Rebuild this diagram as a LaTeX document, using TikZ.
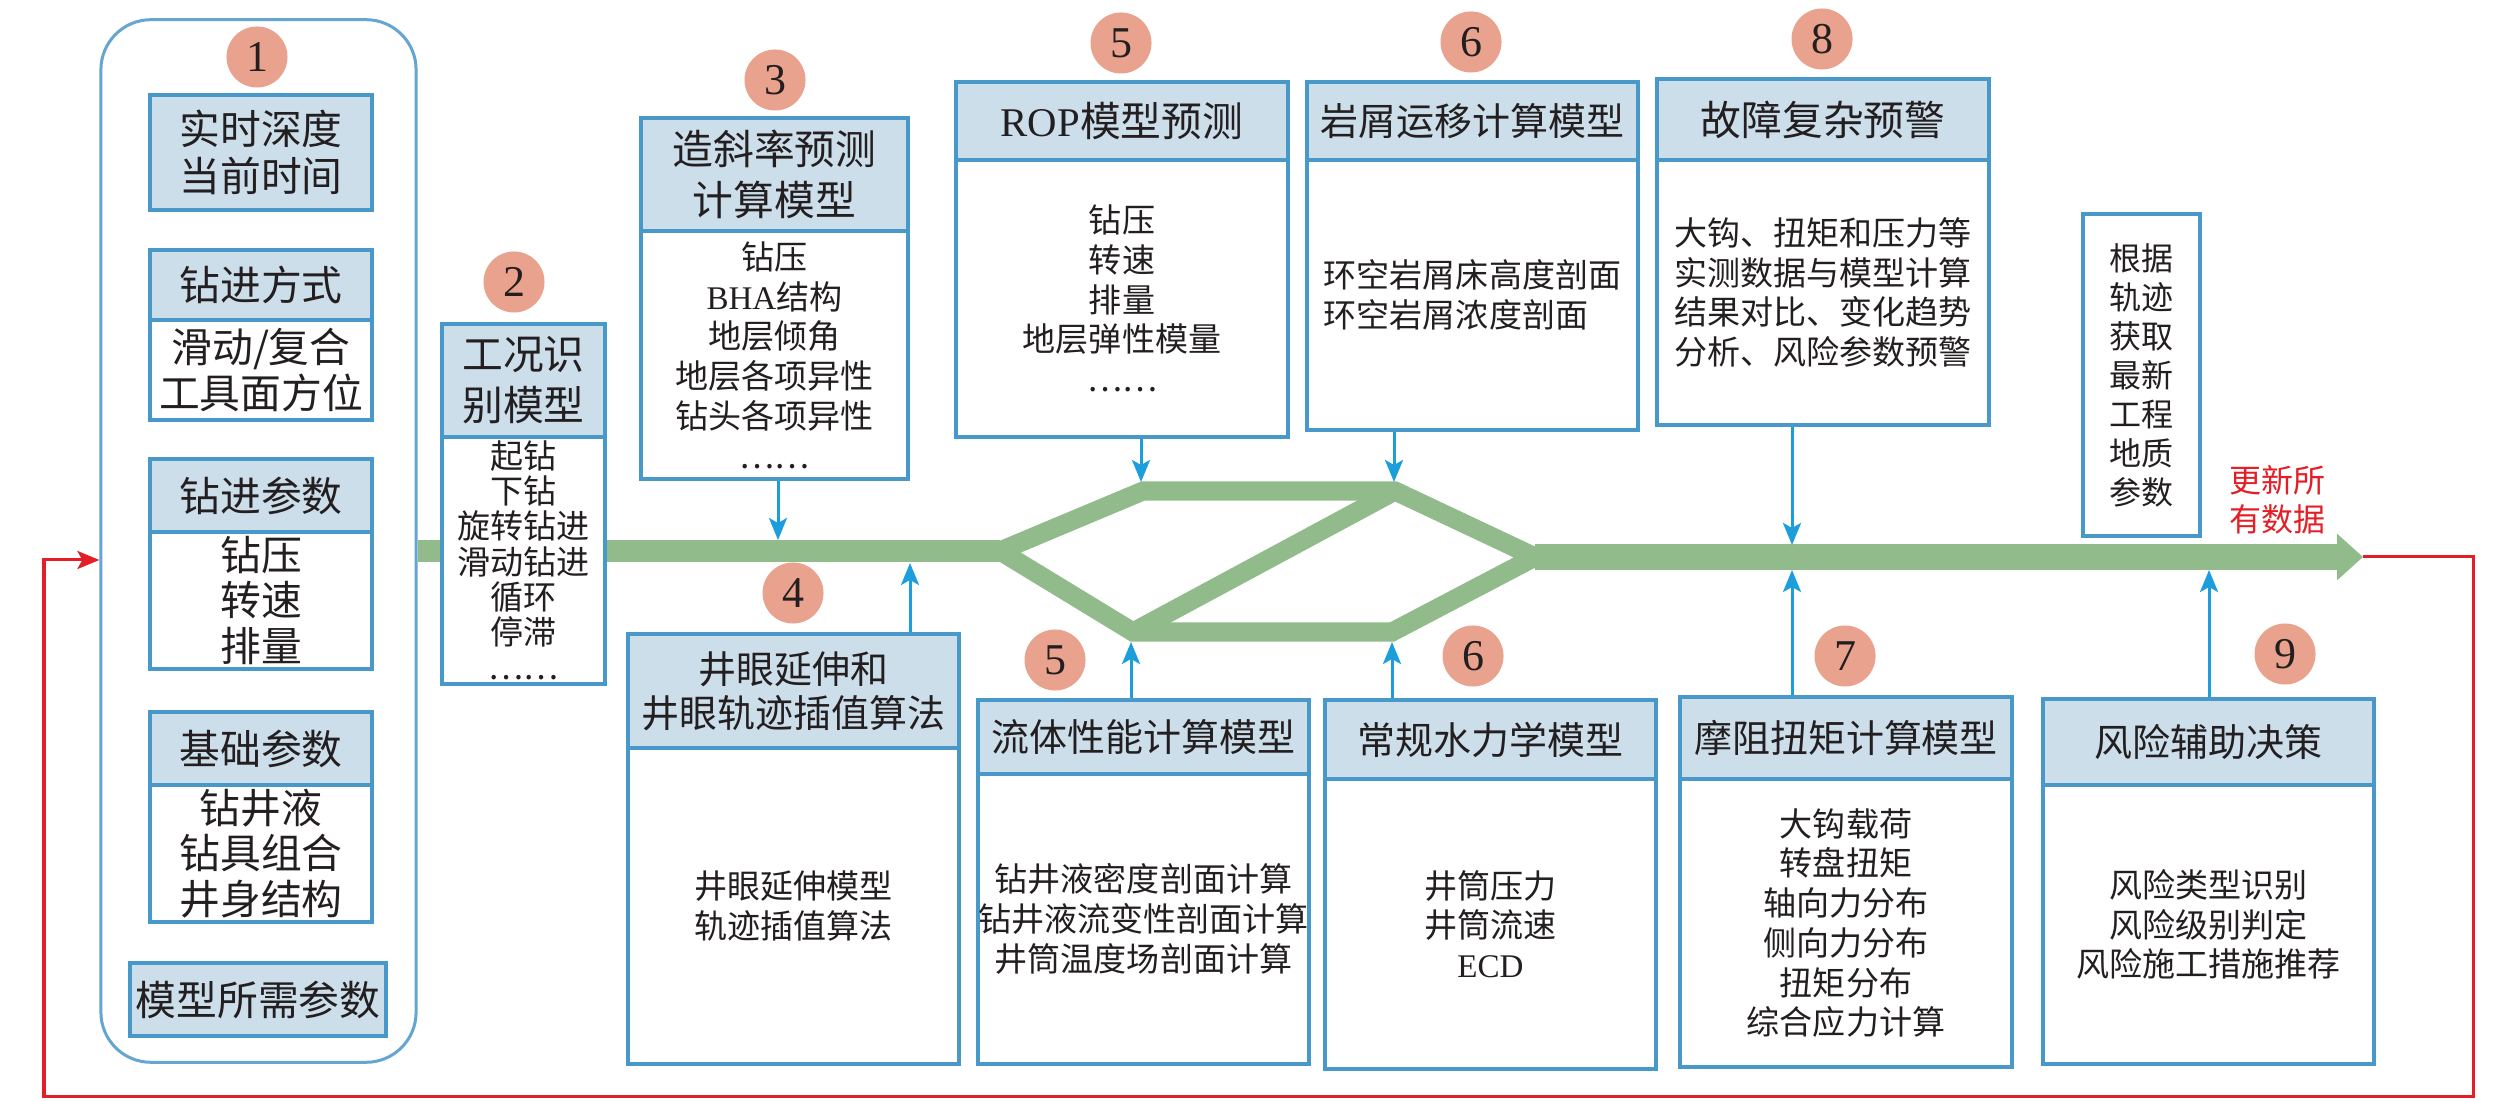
\documentclass[tikz,border=0pt]{standalone}
\usepackage{fontspec}
\setmainfont{Liberation Serif}
\newfontfamily\cjk{Noto Sans CJK SC}
\usetikzlibrary{arrows.meta}
\definecolor{boxblue}{RGB}{72,152,202}
\definecolor{cblue}{RGB}{100,165,210}
\definecolor{headblue}{RGB}{205,222,235}
\definecolor{arrblue}{RGB}{28,158,220}
\definecolor{pipegreen}{RGB}{145,187,138}
\definecolor{numred}{RGB}{232,162,142}
\definecolor{loopred}{RGB}{228,30,38}
\definecolor{ink}{RGB}{35,31,32}

\begin{document}
\begin{tikzpicture} [x=0.01cm, y=-0.01cm,
                     hd/.style= {draw=boxblue, fill=headblue, line width=0.04cm,
                                 inner sep=0, align=center, text=ink,
                                 font=\cjk\fontsize{10.8}{12.5}\selectfont},
                     hdbig/.style= {hd, font=\cjk\fontsize{11.6}{14.5}\selectfont},
                     bd/.style= {draw=boxblue, fill=white, line width=0.04cm,
                                 inner sep=0, align=center, text=ink,
                                 font=\cjk\fontsize{9.4}{11.3}\selectfont},
                     inhd/.style= {hd, font=\cjk\fontsize{11.6}{13.4}\selectfont},
                     inbd/.style= {bd, font=\cjk\fontsize{11.6}{13}\selectfont},
                     num/.style= {circle, fill=numred, minimum size=0.61cm,
                                  inner sep=0, text=ink,
                                  font=\rmfamily\fontsize{12.5}{14}\selectfont},
                     pipe/.style= {draw=pipegreen, line width=0.19cm},
                     barrow/.style= {draw=arrblue, line width=0.03cm,
                                     -{Stealth[length=0.22cm, width=0.18cm, inset=0.05cm]}}]

\useasboundingbox (0,0) rectangle (2519,1101);

% input parameters
\node[draw=cblue, line width=0.03cm, rounded corners=0.5cm,
      minimum width=3.15cm, minimum height=10.42cm] (cbox) at (258.5,541) {};

% pipe network
\coordinate (a1) at (1000,551);
\coordinate (u1) at (1143,491);
\coordinate (u2) at (1395,491);
\coordinate (l1) at (1133,632);
\coordinate (l2) at (1392,632);
\coordinate (a2) at (1535,557);
\coordinate (tip) at (2363,557);
\draw[pipe, line width=0.22cm] (cbox.east |- a1) -- (a1);
\draw[pipe, line join=miter] (a1) -- (u1) -- (u2) -- (a2) -- (l2) -- (l1) -- cycle;
\draw[pipe] (l1) -- (u2);
\draw[pipe, line width=0.25cm, -{Triangle[length=0.26cm, width=0.45cm]}] (a2) -- (tip);

\node[inhd, minimum width=2.22cm, minimum height=1.15cm] (d1) at (261,152.5) {实时深度\\当前时间};
\node[inhd, minimum width=2.22cm, minimum height=0.70cm] (d2) at (261,285) {钻进方式};
\node[inbd, minimum width=2.22cm, minimum height=1.00cm] (d2b) at (261,370) {滑动/复合\\工具面方位};
\node[inhd, minimum width=2.22cm, minimum height=0.73cm] (d3) at (261,495.5) {钻进参数};
\node[inbd, minimum width=2.22cm, minimum height=1.37cm] (d3b) at (261,600.5) {钻压\\转速\\排量};
\node[inhd, minimum width=2.22cm, minimum height=0.73cm] (d4) at (261,748.5) {基础参数};
\node[inbd, minimum width=2.22cm, minimum height=1.37cm] (d4b) at (261,853.5) {钻井液\\钻具组合\\井身结构};
\node[inhd, minimum width=2.56cm, minimum height=0.73cm] (d5) at (258,999.5) {模型所需参数};

\node[hdbig, minimum width=1.63cm, minimum height=1.13cm] (gk) at (523.5,380.5) {工况识\\别模型};
\node[bd, minimum width=1.63cm, minimum height=2.47cm,
      font=\cjk\fontsize{9.4}{10}\selectfont] (gkb) at (523.5,560.5) {起钻\\下钻\\旋转钻进\\滑动钻进\\循环\\停滞\\……};

\node[hdbig, minimum width=2.67cm, minimum height=1.13cm] (zx) at (774.5,174.5) {造斜率预测\\计算模型};
\node[bd, minimum width=2.67cm, minimum height=2.48cm] (zxb) at (774.5,355) {钻压\\{\rmfamily BHA}结构\\地层倾角\\地层各项异性\\钻头各项异性\\……};

\node[hdbig, minimum width=3.32cm, minimum height=0.78cm] (rop) at (1122,121) {{\rmfamily ROP}模型预测};
\node[bd, minimum width=3.32cm, minimum height=2.77cm] (ropb) at (1122,298.5) {钻压\\转速\\排量\\地层弹性模量\\……};

\node[hd, minimum width=3.31cm, minimum height=0.78cm] (yx) at (1472.5,121) {岩屑运移计算模型};
\node[bd, align=left, minimum width=3.31cm, minimum height=2.70cm] (yxb) at (1472.5,295) {环空岩屑床高度剖面\\环空岩屑浓度剖面};

\node[hdbig, minimum width=3.32cm, minimum height=0.81cm] (gz) at (1823,119.5) {故障复杂预警};
\node[bd, align=left, minimum width=3.32cm, minimum height=2.65cm] (gzb) at (1823,292.5) {大钩、扭矩和压力等\\实测数据与模型计算\\结果对比、变化趋势\\分析、风险参数预警};

\node[bd, minimum width=1.17cm, minimum height=3.22cm,
      font=\cjk\fontsize{9.1}{11.1}\selectfont] (gj) at (2141.5,375) {根据\\轨迹\\获取\\最新\\工程\\地质\\参数};

\node[hd, minimum width=3.31cm, minimum height=1.14cm] (jy) at (793.5,691) {井眼延伸和\\井眼轨迹插值算法};
\node[bd, minimum width=3.31cm, minimum height=3.16cm] (jyb) at (793.5,906) {井眼延伸模型\\轨迹插值算法};

\node[hd, minimum width=3.31cm, minimum height=0.74cm] (lt) at (1143.5,737) {流体性能计算模型};
\node[bd, minimum width=3.31cm, minimum height=2.90cm] (ltb) at (1143.5,919) {钻井液密度剖面计算\\钻井液流变性剖面计算\\井筒温度场剖面计算};

\node[hd, minimum width=3.31cm, minimum height=0.79cm] (cg) at (1490.5,739.5) {常规水力学模型};
\node[bd, minimum width=3.31cm, minimum height=2.90cm] (cgb) at (1490.5,924) {井筒压力\\井筒流速\\{\rmfamily ECD}};

\node[hd, minimum width=3.32cm, minimum height=0.82cm] (mz) at (1846,738) {摩阻扭矩计算模型};
\node[bd, minimum width=3.32cm, minimum height=2.88cm] (mzb) at (1846,923) {大钩载荷\\转盘扭矩\\轴向力分布\\侧向力分布\\扭矩分布\\综合应力计算};

\node[hd, minimum width=3.31cm, minimum height=0.86cm] (fx) at (2208.5,742) {风险辅助决策};
\node[bd, minimum width=3.31cm, minimum height=2.79cm] (fxb) at (2208.5,924.5) {风险类型识别\\风险级别判定\\风险施工措施推荐};

% step numbers
\foreach \k/\n/\x/\y in {a/1/257/57, b/2/514/282, c/3/775/80, d/5/1121/43,
                         e/6/1471/42, f/8/1822/39, g/4/793/593, h/5/1055/660,
                         i/6/1473/656, j/7/1845/656, k/9/2285/654}%
    \node[num] (n\k) at (\x,\y) {\n};

% model outputs onto the pipe
\coordinate (e3) at (778,540);
\coordinate (e4) at (910,563);
\coordinate (e5) at (1141,482);
\coordinate (e5b) at (1131,642);
\coordinate (e6) at (1394,482);
\coordinate (e6b) at (1392,642);
\coordinate (e7) at (1792,570);
\coordinate (e8) at (1792,545);
\coordinate (e9) at (2209,570);
\draw[barrow] (zxb.south -| e3) -- (e3);
\draw[barrow] (jy.north -| e4) -- (e4);
\draw[barrow] (ropb.south -| e5) -- (e5);
\draw[barrow] (lt.north -| e5b) -- (e5b);
\draw[barrow] (yxb.south -| e6) -- (e6);
\draw[barrow] (cg.north -| e6b) -- (e6b);
\draw[barrow] (mz.north -| e7) -- (e7);
\draw[barrow] (gzb.south -| e8) -- (e8);
\draw[barrow] (fx.north -| e9) -- (e9);

% update loop
\coordinate (k1) at (2473,1096);
\coordinate (k2) at (44,560);
\draw[loopred, line width=0.03cm, -{Stealth[length=0.22cm, width=0.18cm, inset=0.05cm]}]
    (tip) -| (k1) -| (k2) -- (cbox.west |- k2);
\node[text=loopred, align=center, font=\cjk\fontsize{9.1}{11}\selectfont] (upd) at (2277,500) {更新所\\有数据};
\end{tikzpicture}
\end{document}
